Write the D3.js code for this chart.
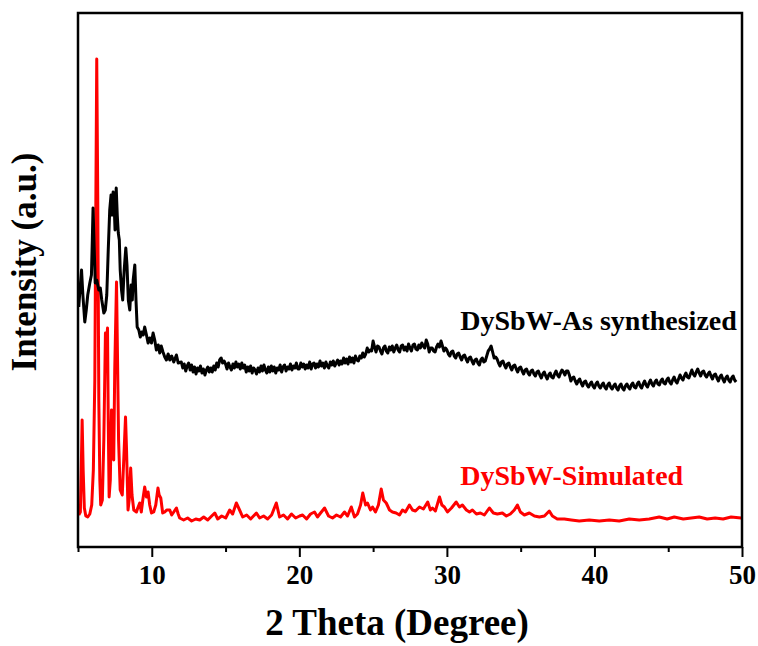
<!DOCTYPE html>
<html>
<head>
<meta charset="utf-8">
<script src="https://cdnjs.cloudflare.com/ajax/libs/d3/7.8.5/d3.min.js"></script>
<style>
  body { margin: 0; background: #fff; }
  svg { display: block; }
</style>
</head>
<body>
<div id="plot"></div>
<script>
// x axis ticks
var major_ticks = [10, 20, 30, 40, 50];
var minor_ticks = [5, 15, 25, 35, 45];

// DySbW-As synthesized, [2 theta, intensity]
var exp_peaks = [
  [5.05, 240], [5.16, 262], [5.24, 277], [5.33, 252], [5.46, 225], [5.56, 237], [5.66, 252],
  [5.80, 264], [5.91, 272], [5.97, 307], [6.02, 339], [6.09, 302], [6.17, 264], [6.27, 267],
  [6.41, 257], [6.51, 259], [6.61, 247], [6.75, 234], [6.85, 237], [6.95, 252], [7.05, 297],
  [7.15, 337], [7.24, 352], [7.31, 332], [7.38, 355], [7.44, 347], [7.51, 317], [7.59, 359],
  [7.66, 332], [7.73, 314], [7.80, 307], [7.86, 277], [7.95, 257], [8.03, 247], [8.13, 277],
  [8.24, 299], [8.32, 282], [8.41, 247], [8.51, 237], [8.60, 262], [8.68, 247], [8.74, 267],
  [8.85, 282], [8.93, 247], [9.01, 220], [9.12, 217], [9.22, 210], [9.32, 215], [9.42, 212],
  [9.52, 220], [9.64, 212], [9.75, 204], [9.86, 209], [9.98, 204], [10.09, 214], [10.20, 207],
  [10.31, 197], [10.44, 202], [10.54, 194], [10.64, 201], [10.76, 195], [10.88, 190], [10.99, 187],
  [11.11, 193], [11.22, 187], [11.35, 191], [11.49, 185], [11.67, 192], [11.79, 184]
];
var exp_tail = [
  [12.0,185],[12.1,179],[12.2,183],[12.3,176],[12.4,181],[12.5,184],[12.6,177],[12.7,182],[12.8,175],[12.9,180],
  [13.0,173],[13.1,179],[13.2,176],[13.3,181],[13.4,174],[13.5,178],[13.6,172],[13.7,177],[13.8,180],[13.9,175],
  [14.0,179],[14.1,175],[14.2,181],[14.3,177],[14.4,184],[14.5,180],[14.6,187],[14.7,189],[14.8,184],[14.9,186],
  [15.0,183],[15.1,178],[15.2,184],[15.3,180],[15.4,177],[15.5,183],[15.6,179],[15.7,185],[15.8,180],[15.9,183],
  [16.0,178],[16.1,184],[16.2,179],[16.3,182],[16.4,175],[16.5,180],[16.6,176],[16.7,181],[16.8,174],[16.9,179],
  [17.0,177],[17.1,173],[17.2,179],[17.3,175],[17.4,181],[17.5,176],[17.6,182],[17.7,177],[17.8,174],[17.9,180],
  [18.0,175],[18.1,181],[18.2,176],[18.3,180],[18.4,174],[18.5,179],[18.6,177],[18.7,182],[18.8,175],[18.9,180],
  [19.0,182],[19.1,176],[19.2,180],[19.3,178],[19.4,183],[19.5,177],[19.6,181],[19.7,179],[19.8,184],[19.9,178],
  [20.0,178],[20.1,184],[20.2,180],[20.3,183],[20.4,178],[20.5,182],[20.6,179],[20.7,185],[20.8,178],[20.9,183],
  [21.0,184],[21.1,179],[21.2,183],[21.3,180],[21.4,186],[21.5,181],[21.6,184],[21.7,179],[21.8,185],[21.9,181],
  [22.0,179],[22.1,185],[22.2,182],[22.3,186],[22.4,181],[22.5,184],[22.6,187],[22.7,182],[22.8,186],[22.9,183],
  [23.0,189],[23.1,184],[23.2,188],[23.3,183],[23.4,190],[23.5,185],[23.6,189],[23.7,184],[23.8,191],[23.9,187],
  [24.0,186],[24.1,191],[24.2,189],[24.3,194],[24.4,190],[24.5,193],[24.6,199],[24.7,195],[24.8,197],[24.9,196],
  [25.0,206],[25.1,200],[25.2,195],[25.3,201],[25.4,200],[25.5,196],[25.6,193],[25.7,199],[25.8,201],[25.9,196],
  [26.0,194],[26.1,200],[26.2,197],[26.3,201],[26.4,195],[26.5,199],[26.6,202],[26.7,197],[26.8,195],[26.9,201],
  [27.0,202],[27.1,197],[27.2,200],[27.3,196],[27.4,203],[27.5,199],[27.6,196],[27.7,202],[27.8,203],[27.9,198],
  [28.0,197],[28.1,202],[28.2,199],[28.3,204],[28.4,201],[28.5,199],[28.6,207],[28.7,203],[28.8,195],[28.9,199],
  [29.0,199],[29.1,196],[29.2,195],[29.3,200],[29.4,203],[29.5,200],[29.6,206],[29.7,201],[29.8,196],[29.9,199],
  [30.0,197],[30.1,193],[30.2,191],[30.3,195],[30.4,196],[30.5,191],[30.6,189],[30.7,193],[30.8,194],[30.9,190],
  [31.0,187],[31.1,191],[31.2,192],[31.3,188],[31.4,185],[31.5,189],[31.6,190],[31.7,186],[31.8,183],[31.9,187],
  [32.0,188],[32.1,184],[32.2,182],[32.3,187],[32.4,189],[32.5,185],[32.6,186],[32.7,191],[32.8,196],[32.9,198],
  [33.0,201],[33.1,195],[33.2,189],[33.3,190],[33.4,188],[33.5,184],[33.6,181],[33.7,185],[33.8,186],[33.9,182],
  [34.0,179],[34.1,183],[34.2,184],[34.3,180],[34.4,177],[34.5,181],[34.6,182],[34.7,178],[34.8,175],[34.9,179],
  [35.0,180],[35.1,176],[35.2,173],[35.3,177],[35.4,178],[35.5,174],[35.6,172],[35.7,176],[35.8,177],[35.9,173],
  [36.0,171],[36.1,175],[36.2,176],[36.3,172],[36.4,169],[36.5,173],[36.6,175],[36.7,171],[36.8,168],[36.9,172],
  [37.0,174],[37.1,170],[37.2,169],[37.3,173],[37.4,176],[37.5,172],[37.6,170],[37.7,174],[37.8,177],[37.9,175],
  [38.0,172],[38.1,176],[38.2,176],[38.3,172],[38.4,166],[38.5,169],[38.6,170],[38.7,166],[38.8,163],[38.9,166],
  [39.0,168],[39.1,164],[39.2,161],[39.3,165],[39.4,166],[39.5,162],[39.6,160],[39.7,163],[39.8,165],[39.9,161],
  [40.0,159],[40.1,163],[40.2,165],[40.3,161],[40.4,159],[40.5,162],[40.6,164],[40.7,160],[40.8,158],[40.9,162],
  [41.0,164],[41.1,160],[41.2,158],[41.3,161],[41.4,163],[41.5,159],[41.6,157],[41.7,161],[41.8,163],[41.9,159],
  [42.0,157],[42.1,161],[42.2,163],[42.3,160],[42.4,158],[42.5,162],[42.6,164],[42.7,160],[42.8,159],[42.9,163],
  [43.0,165],[43.1,161],[43.2,159],[43.3,163],[43.4,166],[43.5,162],[43.6,160],[43.7,164],[43.8,167],[43.9,163],
  [44.0,161],[44.1,165],[44.2,167],[44.3,163],[44.4,162],[44.5,166],[44.6,168],[44.7,164],[44.8,163],[44.9,167],
  [45.0,169],[45.1,165],[45.2,163],[45.3,167],[45.4,170],[45.5,166],[45.6,164],[45.7,168],[45.8,172],[45.9,169],
  [46.0,167],[46.1,171],[46.2,174],[46.3,170],[46.4,169],[46.5,173],[46.6,177],[46.7,173],[46.8,171],[46.9,175],
  [47.0,178],[47.1,174],[47.2,171],[47.3,175],[47.4,176],[47.5,172],[47.6,170],[47.7,173],[47.8,175],[47.9,171],
  [48.0,168],[48.1,172],[48.2,173],[48.3,169],[48.4,166],[48.5,170],[48.6,172],[48.7,168],[48.8,165],[48.9,169],
  [49.0,171],[49.1,167],[49.2,165],[49.3,169],[49.4,171],[49.5,167],[49.6,165]
];

// DySbW-Simulated, [2 theta, intensity]
var sim_peaks = [
  [5.05, 32], [5.16, 35], [5.22, 77], [5.28, 127], [5.35, 77], [5.43, 39], [5.53, 31],
  [5.66, 30], [5.80, 33], [5.93, 42], [6.04, 77], [6.14, 167], [6.21, 347], [6.27, 488],
  [6.34, 347], [6.41, 147], [6.48, 67], [6.54, 42], [6.65, 47], [6.75, 107], [6.86, 214],
  [6.93, 202], [7.00, 219], [7.05, 127], [7.11, 50], [7.19, 67], [7.27, 137], [7.36, 107],
  [7.42, 87], [7.49, 177], [7.61, 265], [7.68, 187], [7.75, 107], [7.86, 57], [8.00, 52],
  [8.10, 87], [8.22, 130], [8.29, 97], [8.39, 37], [8.47, 47], [8.57, 79], [8.66, 52],
  [8.78, 37], [8.96, 35], [9.05, 39], [9.18, 44], [9.29, 35], [9.39, 47], [9.52, 60],
  [9.64, 50], [9.75, 55], [9.86, 42], [9.98, 34], [10.13, 35], [10.27, 42], [10.42, 59],
  [10.50, 52], [10.61, 49], [10.74, 34], [10.88, 35], [11.01, 37], [11.22, 37], [11.35, 32],
  [11.49, 35], [11.67, 39], [11.79, 33], [11.89, 29]
];
var sim_tail = [
  [12.16, 27], [12.43, 29], [12.70, 26], [12.98, 28], [13.25, 27], [13.52, 30], [13.79, 27],
  [14.06, 31], [14.27, 34], [14.47, 28], [14.74, 31], [15.01, 29], [15.28, 37], [15.48, 33],
  [15.73, 44], [15.95, 37], [16.16, 30], [16.43, 32], [16.70, 28], [17.09, 34], [17.31, 29],
  [17.58, 31], [17.85, 28], [18.12, 32], [18.44, 44], [18.66, 30], [18.93, 32], [19.20, 28],
  [19.47, 33], [19.75, 29], [20.02, 31], [20.22, 32], [20.49, 28], [20.76, 33], [21.03, 35],
  [21.23, 30], [21.44, 34], [21.71, 39], [21.98, 31], [22.25, 29], [22.52, 32], [22.79, 30],
  [23.06, 35], [23.27, 31], [23.52, 40], [23.74, 30], [23.94, 33], [24.15, 42], [24.30, 54],
  [24.49, 42], [24.62, 44], [24.82, 37], [24.96, 40], [25.16, 35], [25.36, 42], [25.55, 58],
  [25.70, 47], [25.89, 44], [26.11, 37], [26.31, 35], [26.56, 34], [26.79, 32], [26.99, 37],
  [27.19, 35], [27.46, 42], [27.67, 37], [27.87, 36], [28.14, 40], [28.41, 38], [28.70, 45],
  [28.88, 37], [29.02, 39], [29.22, 36], [29.50, 50], [29.66, 42], [29.83, 40], [30.04, 35],
  [30.31, 39], [30.63, 45], [30.85, 40], [31.05, 42], [31.32, 37], [31.53, 35], [31.73, 37],
  [32.00, 33], [32.27, 34], [32.54, 32], [32.88, 39], [33.15, 34], [33.42, 33], [33.76, 34],
  [34.03, 31], [34.30, 33], [34.57, 37], [34.78, 42], [34.98, 35], [35.25, 32], [35.59, 34],
  [35.93, 31], [36.27, 30], [36.61, 31], [36.94, 36], [37.15, 31], [37.48, 28], [37.96, 28],
  [38.43, 27], [38.97, 26], [39.65, 27], [40.33, 26], [41.01, 27], [41.68, 26], [42.36, 28],
  [43.04, 27], [43.71, 28], [44.39, 30], [44.93, 28], [45.41, 30], [46.02, 28], [46.56, 29],
  [47.10, 30], [47.64, 28], [48.18, 29], [48.72, 28], [49.26, 30], [49.94, 29]
];

var exp_data = exp_peaks.concat(exp_tail);
var sim_data = sim_peaks.concat(sim_tail);

const total_width = 758
const total_height = 646
const margin = {left: 78, top: 13, right: 16, bottom: 99}
var width = total_width - margin.left - margin.right;
var height = total_height - margin.top - margin.bottom;
const font = "'Liberation Serif', 'Times New Roman', serif";

var svg = d3.select("#plot").append("svg").attr("width", total_width).attr("height", total_height)
  .append("g").attr("transform", "translate(" + margin.left + "," + margin.top + ")");

var x = d3.scaleLinear().domain([5, 50]).range([0, width]);
var y = d3.scaleLinear().domain([0, height]).range([height, 0]);

// minor ticks
svg.append("g").attr("transform", "translate(0," + height + ")")
  .call(d3.axisBottom(x).tickValues(minor_ticks).tickSize(5).tickFormat(""))
  .call(g => g.select(".domain").remove())
  .call(g => g.selectAll("line").attr("stroke-width", 2));

// major ticks
var xAxis = svg.append("g").attr("transform", "translate(0," + height + ")")
  .call(d3.axisBottom(x).tickValues(major_ticks).tickSize(10).tickPadding(8).tickFormat(d3.format("d")));
xAxis.select(".domain").remove();
xAxis.selectAll("line").attr("stroke-width", 2);
xAxis.selectAll("text").style("font-family", font).style("font-size", "27px").style("font-weight", "bold").attr("fill", "#000");

var line = d3.line().x(d => x(d[0])).y(d => y(d[1]));

svg.append("path").datum(sim_data).attr("d", line)
  .attr("fill", "none").attr("stroke", "#ff0000").attr("stroke-width", 3).attr("stroke-linejoin", "round");

svg.append("path").datum(exp_data).attr("d", line)
  .attr("fill", "none").attr("stroke", "#000").attr("stroke-width", 3).attr("stroke-linejoin", "round");

// frame
svg.append("rect").attr("width", width).attr("height", height)
  .attr("fill", "none").attr("stroke", "#000").attr("stroke-width", 2.5);

// series labels
svg.append("text").attr("x", x(30.9)).attr("y", y(217)).text("DySbW-As synthesized")
  .style("font-family", font).style("font-size", "28px").style("font-weight", "bold").attr("fill", "#000");
svg.append("text").attr("x", x(30.9)).attr("y", y(62)).text("DySbW-Simulated")
  .style("font-family", font).style("font-size", "28px").style("font-weight", "bold").attr("fill", "#ff0000");

// axis titles
svg.append("text").attr("text-anchor", "middle").attr("x", 319).attr("y", height + 88)
  .text("2 Theta (Degree)")
  .style("font-family", font).style("font-size", "37px").style("font-weight", "bold");
svg.append("text").attr("text-anchor", "middle")
  .attr("transform", "translate(" + (-42) + "," + (height / 2 - 18) + ") rotate(-90)")
  .text("Intensity (a.u.)")
  .style("font-family", font).style("font-size", "35px").style("font-weight", "bold");
</script>
</body>
</html>
